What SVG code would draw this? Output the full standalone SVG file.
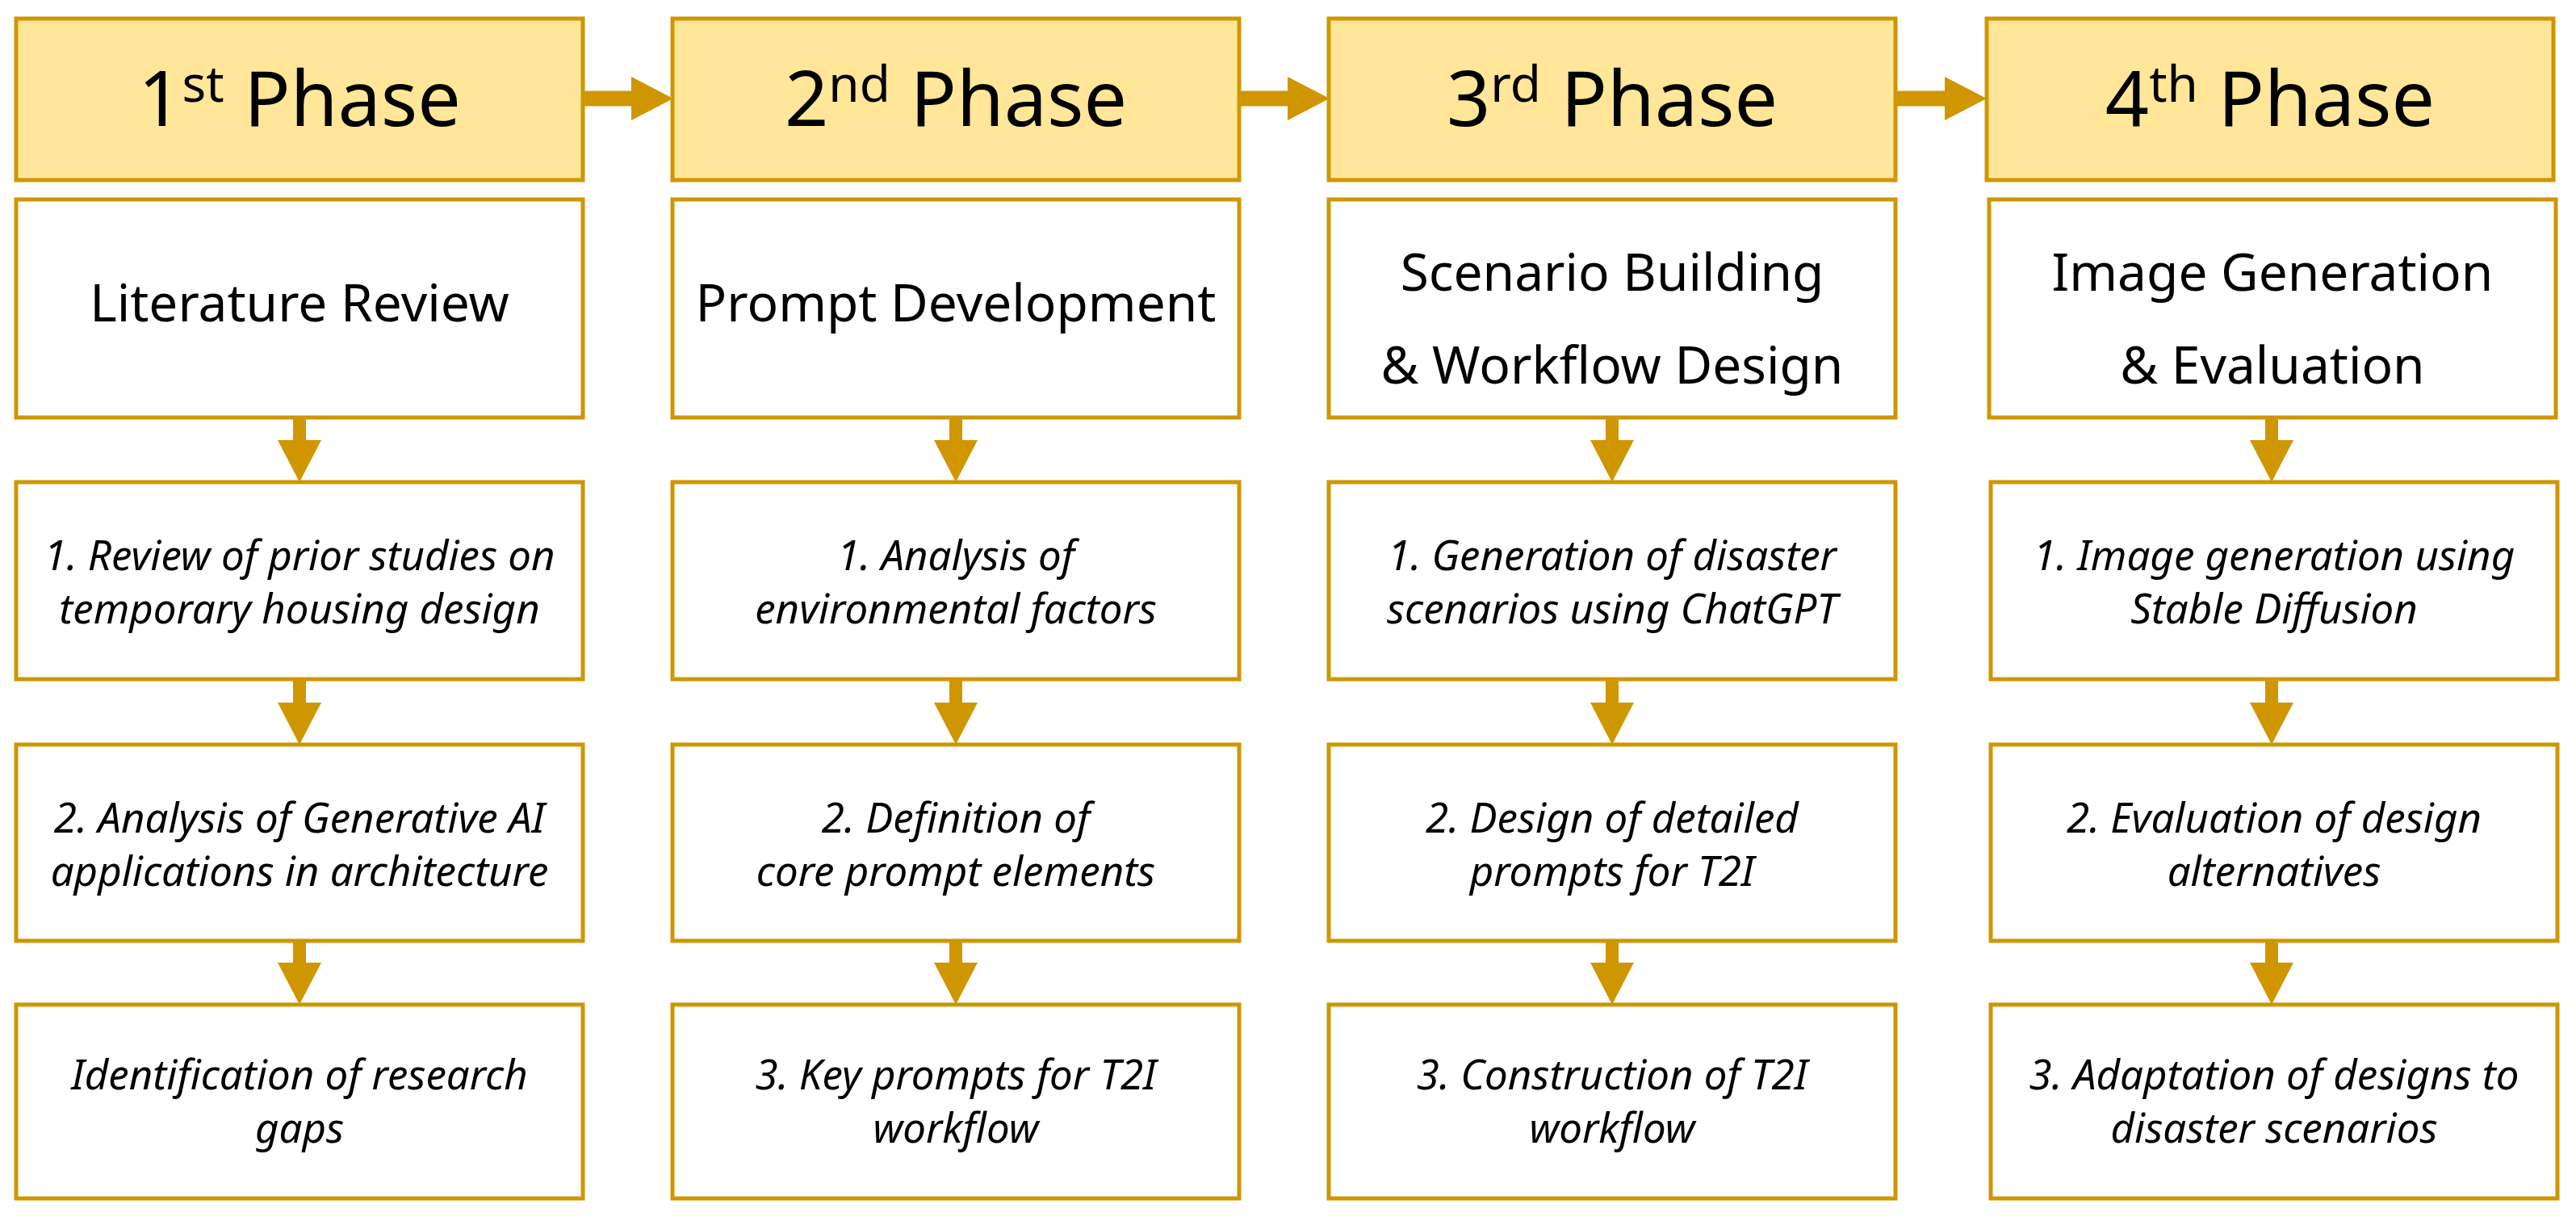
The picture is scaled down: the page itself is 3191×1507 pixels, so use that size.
<svg xmlns="http://www.w3.org/2000/svg" width="3191" height="1507" viewBox="0 0 3191 1507">
<style>
.hdr{fill:#FFE699;stroke:#D09600;stroke-width:5}
.box{fill:#FFFFFF;stroke:#D09600;stroke-width:5}
.ht{font-family:"Noto Sans","Liberation Sans",sans-serif;font-size:95px;fill:#000;text-anchor:middle}
.sup{font-size:62px}
.tt{font-family:"Noto Sans","Liberation Sans",sans-serif;font-size:64px;fill:#000;text-anchor:middle}
.st{font-family:"Noto Sans","Liberation Sans",sans-serif;font-style:italic;font-size:51px;fill:#000;text-anchor:middle}
.cv{stroke:#D09600;stroke-width:16;fill:none}
.ch{stroke:#D09600;stroke-width:19;fill:none}
</style>
<defs>
<marker id="ah" markerUnits="userSpaceOnUse" viewBox="0 0 52 54" refX="0" refY="27" markerWidth="52" markerHeight="54" orient="auto">
<path d="M0,0 L52,27 L0,54 Z" fill="#D09600"/>
</marker>
</defs>
<rect width="3191" height="1507" fill="#FFFFFF"/>

<g id="connectors">
<line class="ch" x1="722" y1="122" x2="782" y2="122" marker-end="url(#ah)"/>
<line class="ch" x1="1535" y1="122" x2="1595" y2="122" marker-end="url(#ah)"/>
<line class="ch" x1="2348" y1="122" x2="2409" y2="122" marker-end="url(#ah)"/>

<line class="cv" x1="371" y1="517" x2="371" y2="545" marker-end="url(#ah)"/>
<line class="cv" x1="371" y1="841" x2="371" y2="870" marker-end="url(#ah)"/>
<line class="cv" x1="371" y1="1165" x2="371" y2="1192" marker-end="url(#ah)"/>

<line class="cv" x1="1184" y1="517" x2="1184" y2="545" marker-end="url(#ah)"/>
<line class="cv" x1="1184" y1="841" x2="1184" y2="870" marker-end="url(#ah)"/>
<line class="cv" x1="1184" y1="1165" x2="1184" y2="1192" marker-end="url(#ah)"/>

<line class="cv" x1="1997" y1="517" x2="1997" y2="545" marker-end="url(#ah)"/>
<line class="cv" x1="1997" y1="841" x2="1997" y2="870" marker-end="url(#ah)"/>
<line class="cv" x1="1997" y1="1165" x2="1997" y2="1192" marker-end="url(#ah)"/>

<line class="cv" x1="2814" y1="517" x2="2814" y2="545" marker-end="url(#ah)"/>
<line class="cv" x1="2814" y1="841" x2="2814" y2="870" marker-end="url(#ah)"/>
<line class="cv" x1="2814" y1="1165" x2="2814" y2="1192" marker-end="url(#ah)"/>
</g>

<!-- Column 1 -->
<g id="phase1">
<rect class="hdr" x="20" y="23" width="702" height="200"/>
<text class="ht" x="371" y="156">1<tspan class="sup" dy="-30">st</tspan><tspan dy="30"> Phase</tspan></text>
</g>
<g id="title1">
<rect class="box" x="20" y="247" width="702" height="270"/>
<text class="tt" x="371" y="398">Literature Review</text>
</g>
<g id="step1-1">
<rect class="box" x="20" y="597" width="702" height="244"/>
<text class="st" x="371" y="706">1. Review of prior studies on</text>
<text class="st" x="371" y="772">temporary housing design</text>
</g>
<g id="step1-2">
<rect class="box" x="20" y="922" width="702" height="243"/>
<text class="st" x="371" y="1031">2. Analysis of Generative AI</text>
<text class="st" x="371" y="1097">applications in architecture</text>
</g>
<g id="step1-3">
<rect class="box" x="20" y="1244" width="702" height="240"/>
<text class="st" x="371" y="1349">Identification of research</text>
<text class="st" x="371" y="1415">gaps</text>
</g>

<!-- Column 2 -->
<g id="phase2">
<rect class="hdr" x="833" y="23" width="702" height="200"/>
<text class="ht" x="1184" y="156">2<tspan class="sup" dy="-30">nd</tspan><tspan dy="30"> Phase</tspan></text>
</g>
<g id="title2">
<rect class="box" x="833" y="247" width="702" height="270"/>
<text class="tt" x="1184" y="398">Prompt Development</text>
</g>
<g id="step2-1">
<rect class="box" x="833" y="597" width="702" height="244"/>
<text class="st" x="1184" y="706">1. Analysis of</text>
<text class="st" x="1184" y="772">environmental factors</text>
</g>
<g id="step2-2">
<rect class="box" x="833" y="922" width="702" height="243"/>
<text class="st" x="1184" y="1031">2. Definition of</text>
<text class="st" x="1184" y="1097">core prompt elements</text>
</g>
<g id="step2-3">
<rect class="box" x="833" y="1244" width="702" height="240"/>
<text class="st" x="1184" y="1349">3. Key prompts for T2I</text>
<text class="st" x="1184" y="1415">workflow</text>
</g>

<!-- Column 3 -->
<g id="phase3">
<rect class="hdr" x="1646" y="23" width="702" height="200"/>
<text class="ht" x="1997" y="156">3<tspan class="sup" dy="-30">rd</tspan><tspan dy="30"> Phase</tspan></text>
</g>
<g id="title3">
<rect class="box" x="1646" y="247" width="702" height="270"/>
<text class="tt" x="1997" y="360">Scenario Building</text>
<text class="tt" x="1997" y="475">&amp; Workflow Design</text>
</g>
<g id="step3-1">
<rect class="box" x="1646" y="597" width="702" height="244"/>
<text class="st" x="1997" y="706">1. Generation of disaster</text>
<text class="st" x="1997" y="772">scenarios using ChatGPT</text>
</g>
<g id="step3-2">
<rect class="box" x="1646" y="922" width="702" height="243"/>
<text class="st" x="1997" y="1031">2. Design of detailed</text>
<text class="st" x="1997" y="1097">prompts for T2I</text>
</g>
<g id="step3-3">
<rect class="box" x="1646" y="1244" width="702" height="240"/>
<text class="st" x="1997" y="1349">3. Construction of T2I</text>
<text class="st" x="1997" y="1415">workflow</text>
</g>

<!-- Column 4 -->
<g id="phase4">
<rect class="hdr" x="2461" y="23" width="702" height="200"/>
<text class="ht" x="2812" y="156">4<tspan class="sup" dy="-30">th</tspan><tspan dy="30"> Phase</tspan></text>
</g>
<g id="title4">
<rect class="box" x="2464" y="247" width="702" height="270"/>
<text class="tt" x="2815" y="360">Image Generation</text>
<text class="tt" x="2815" y="475">&amp; Evaluation</text>
</g>
<g id="step4-1">
<rect class="box" x="2466" y="597" width="702" height="244"/>
<text class="st" x="2817" y="706">1. Image generation using</text>
<text class="st" x="2817" y="772">Stable Diffusion</text>
</g>
<g id="step4-2">
<rect class="box" x="2466" y="922" width="702" height="243"/>
<text class="st" x="2817" y="1031">2. Evaluation of design</text>
<text class="st" x="2817" y="1097">alternatives</text>
</g>
<g id="step4-3">
<rect class="box" x="2466" y="1244" width="702" height="240"/>
<text class="st" x="2817" y="1349">3. Adaptation of designs to</text>
<text class="st" x="2817" y="1415">disaster scenarios</text>
</g>
</svg>
